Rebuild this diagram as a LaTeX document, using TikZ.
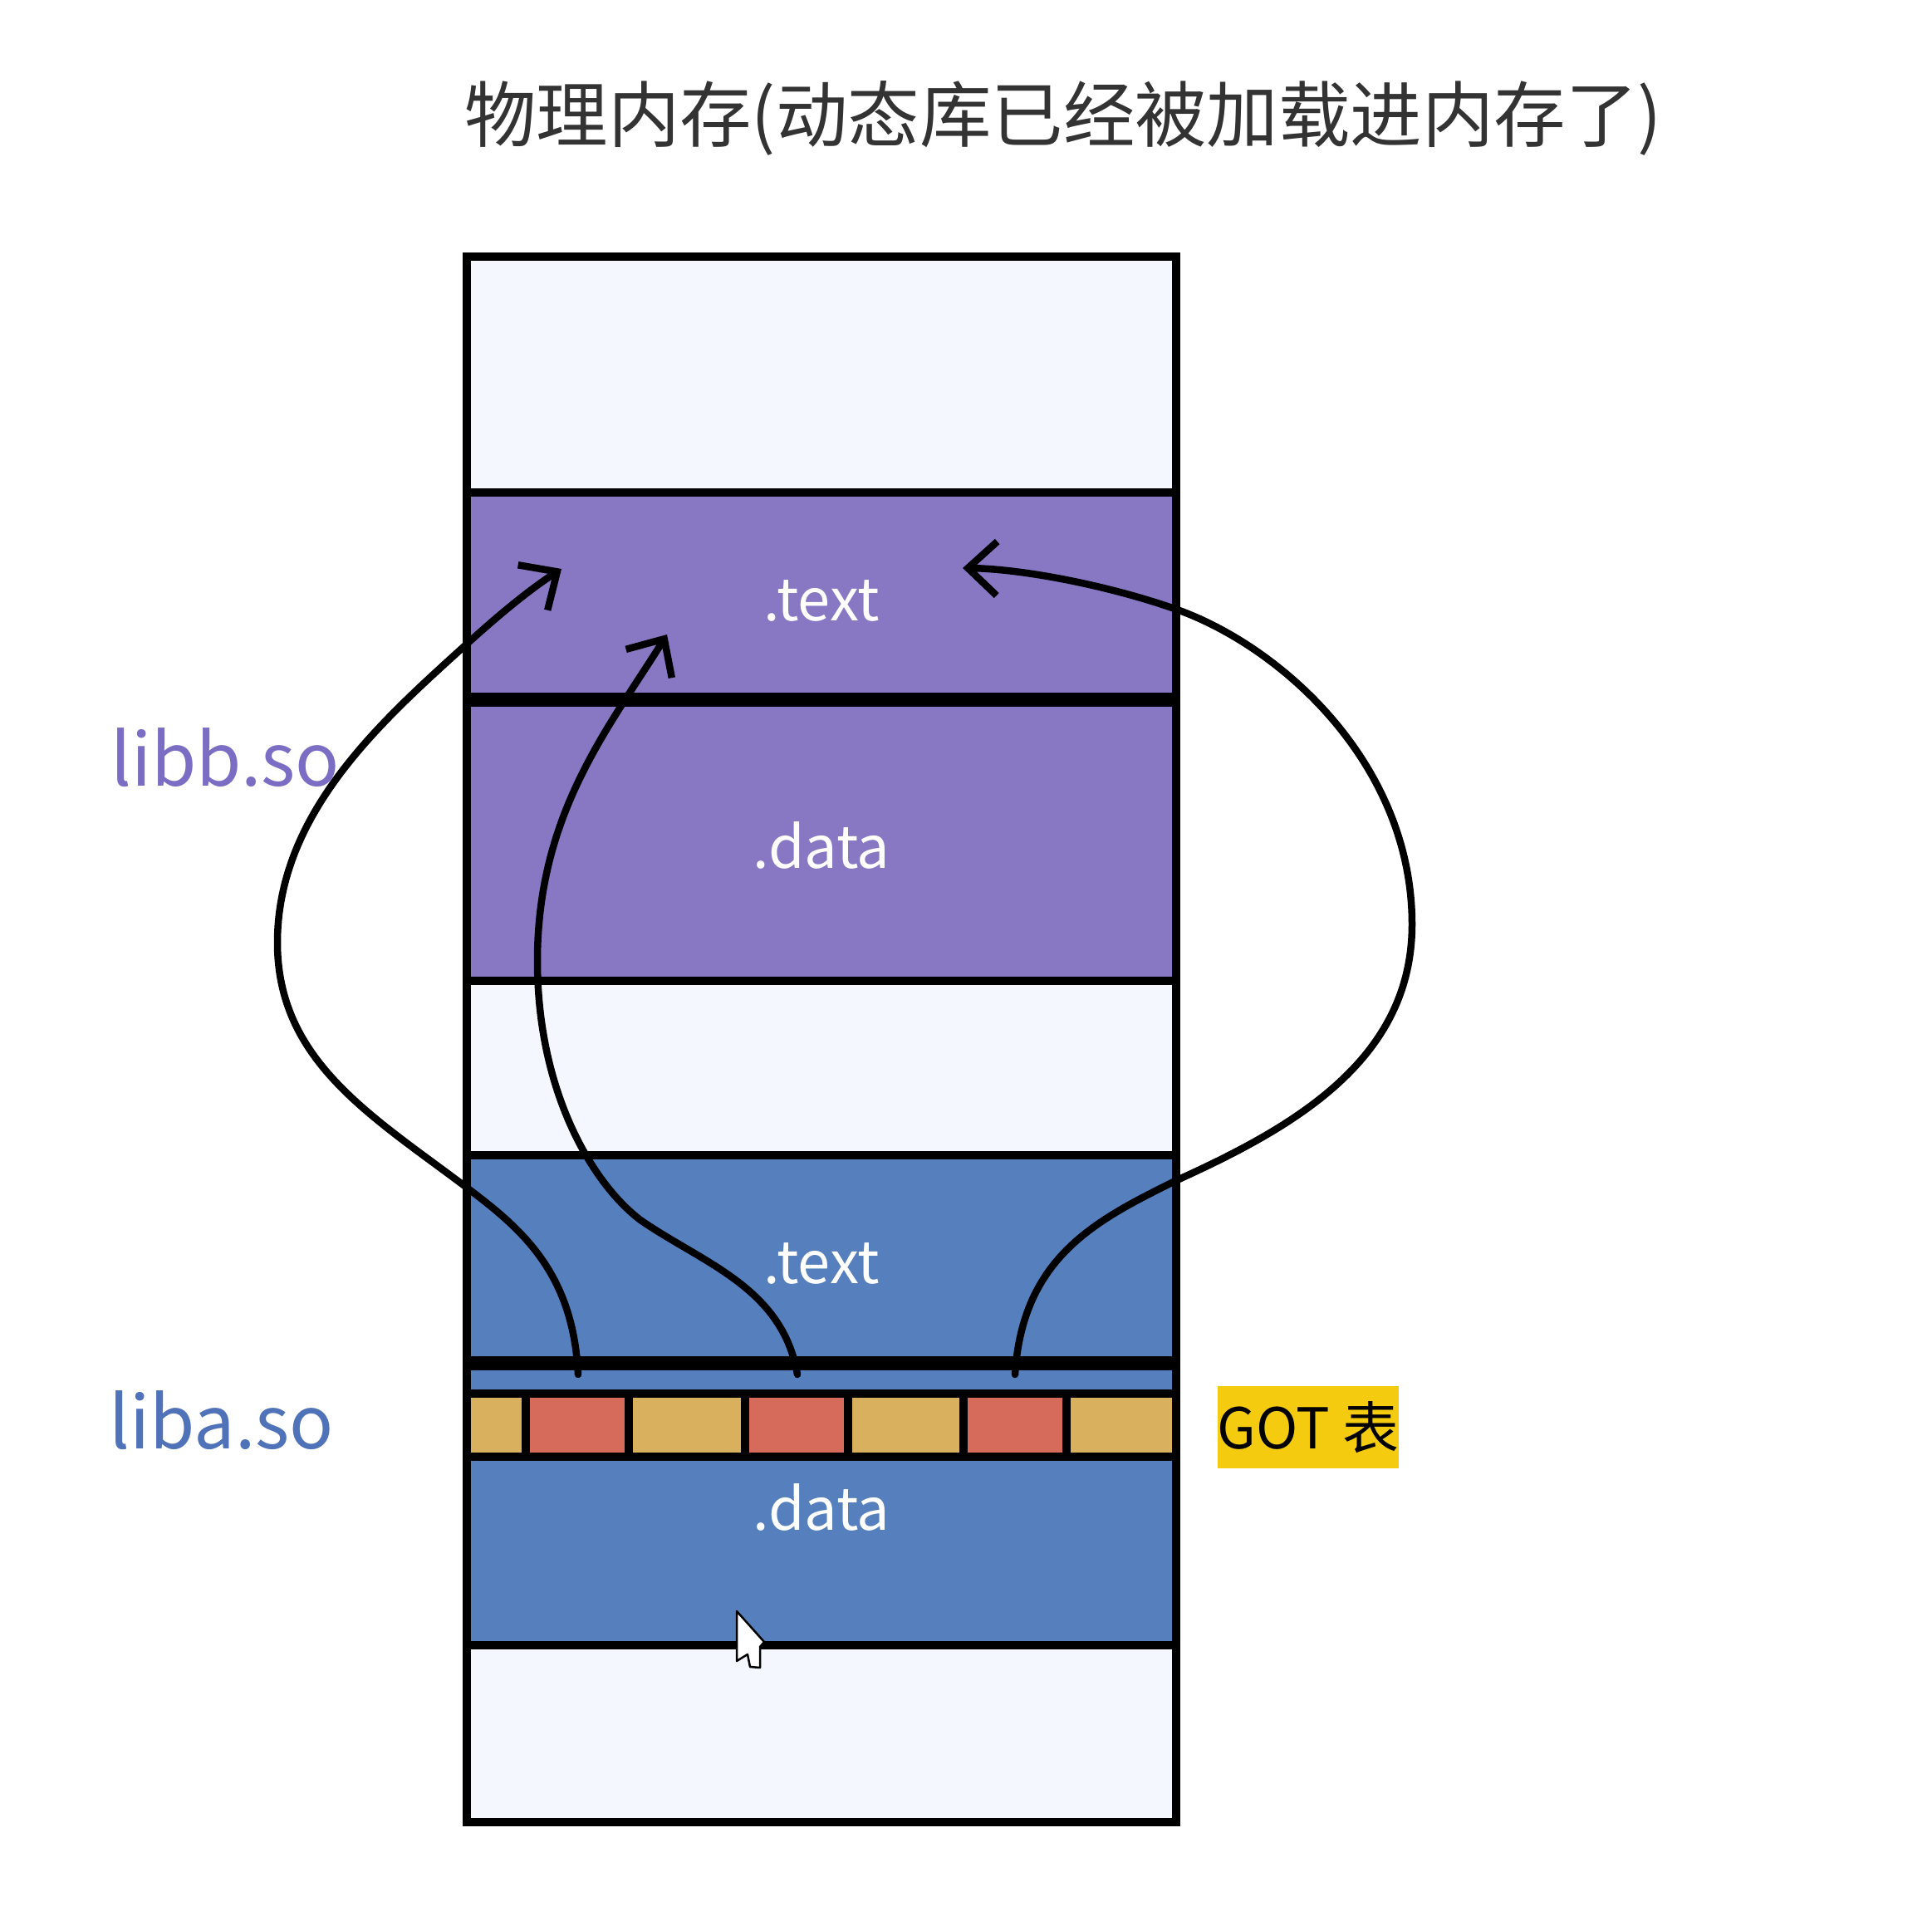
\documentclass[tikz,border=0pt]{standalone}
\usepackage{fontspec}
\setmainfont{Noto Sans CJK SC}
\usetikzlibrary{arrows.meta}
\definecolor{palecol}{HTML}{F4F7FD}
\definecolor{purplecol}{HTML}{8878C3}
\definecolor{bluecol}{HTML}{557FBD}
\definecolor{goldcol}{HTML}{D9B15E}
\definecolor{redcol}{HTML}{D66B5B}
\definecolor{yellowcol}{HTML}{F5CB10}
\definecolor{libbcol}{HTML}{7B6CC4}
\definecolor{libacol}{HTML}{4F72B8}
\tikzset{
	band/.style={rectangle, draw, line width=0.1cm, minimum width=8.54cm, inner sep=0pt},
	cell/.style={rectangle, draw, line width=0.1cm, minimum height=0.76cm, inner sep=0pt},
	seclabel/.style={text=white, font=\fontsize{20}{20}\selectfont, inner sep=0pt},
	liblabel/.style={font=\fontsize{25}{25}\selectfont, inner sep=0pt},
	conn/.style={line width=0.085cm, line cap=round, -{Straight Barb[length=3.5mm, width=6.5mm]}}
}
\begin{document}
\begin{tikzpicture}
	\useasboundingbox (0,0) rectangle (23.26,23);
	
	% Title
	\node[text=black!80, font=\fontsize{24.6}{24.6}\selectfont, inner sep=0pt] (title) at (12.8, 21.57) {物理内存(动态库已经被加载进内存了)};
	
	% Memory bands, top to bottom
	\node[band, fill=palecol, minimum height=2.845cm] (top) at (9.89, 18.49) {};
	\node[band, fill=purplecol, minimum height=2.5cm] (btext) at (9.89, 15.82) {};
	\node[band, fill=purplecol, minimum height=3.38cm] (bdata) at (9.89, 12.88) {};
	\node[band, fill=palecol, minimum height=2.1cm] (gap) at (9.89, 10.14) {};
	\node[band, fill=bluecol, minimum height=2.51cm] (atext) at (9.89, 7.835) {};
	\node[band, fill=bluecol, minimum height=0.36cm] (strip) at (9.89, 6.40) {};
	\node[band, fill=bluecol, minimum height=2.27cm] (adata) at (9.89, 4.325) {};
	\node[band, fill=palecol, minimum height=2.13cm] (bottom) at (9.89, 2.125) {};
	
	% GOT row
	\node[cell, fill=goldcol, minimum width=0.71cm] (got1) at (5.975, 5.84) {};
	\node[cell, fill=redcol, minimum width=1.24cm] (cella) at (6.95, 5.84) {};
	\node[cell, fill=goldcol, minimum width=1.4cm] (got2) at (8.27, 5.84) {};
	\node[cell, fill=redcol, minimum width=1.24cm] (cellb) at (9.59, 5.84) {};
	\node[cell, fill=goldcol, minimum width=1.39cm] (got3) at (10.905, 5.84) {};
	\node[cell, fill=redcol, minimum width=1.24cm] (cellc) at (12.22, 5.84) {};
	\node[cell, fill=goldcol, minimum width=1.32cm] (got4) at (13.5, 5.84) {};
	
	% Thick separators
	\draw[line width=0.17cm] ([yshift=0.5mm]btext.south west) -- ([yshift=0.5mm]btext.south east);
	\draw[line width=0.17cm] ([yshift=0.5mm]atext.south west) -- ([yshift=0.5mm]atext.south east);
	
	% Section labels
	\node[seclabel] (btextlabel) at (9.89, 15.76) {.text};
	\node[seclabel] (bdatalabel) at (9.89, 12.82) {.data};
	\node[seclabel] (atextlabel) at (9.89, 7.78) {.text};
	\node[seclabel] (adatalabel) at (9.89, 4.85) {.data};
	
	% Library labels
	\node[liblabel, text=libbcol] (libb) at (2.71, 13.88) {libb.so};
	\node[liblabel, text=libacol] (liba) at (2.67, 5.9) {liba.so};
	\node[fill=yellowcol, minimum width=2.18cm, minimum height=0.99cm, inner sep=0pt, font=\fontsize{19.3}{19.3}\selectfont] (gotlabel) at (15.75, 5.815) {GOT 表};
	
	% Arrow ends
	\coordinate (srca) at (6.96, 6.45);
	\coordinate (srcb) at (9.6, 6.45);
	\coordinate (srcc) at (12.22, 6.45);
	\coordinate (enda) at (6.76, 16.15);
	\coordinate (endb) at (8.03, 15.36);
	\coordinate (endc) at (11.59, 16.16);
	
	% Arrows
	\draw[conn] (srca) .. controls (6.9, 7.72) and (6.23, 8.24) .. (5.58, 8.73)
		.. controls (4.45, 9.58) and (3.34, 10.24) .. (3.34, 11.65)
		.. controls (3.34, 13.21) and (4.6, 14.32) .. (5.58, 15.21)
		.. controls (5.9, 15.5) and (6.3, 15.85) .. (enda);
	\draw[conn] (srcb) .. controls (9.42, 7.5) and (8.46, 7.79) .. (7.71, 8.31)
		.. controls (7.12, 8.76) and (6.47, 9.87) .. (6.47, 11.43)
		.. controls (6.47, 13.21) and (7.34, 14.25) .. (endb);
	\draw[conn] (srcc) .. controls (12.31, 7.87) and (13.2, 8.31) .. (14.17, 8.79)
		.. controls (15.58, 9.43) and (17, 10.24) .. (17, 11.87)
		.. controls (17, 13.8) and (15.43, 15.21) .. (14.17, 15.66)
		.. controls (13.35, 15.95) and (12.31, 16.15) .. (endc);
	
	% Mouse pointer
	\draw[fill=white, line width=0.025cm, line join=round] (8.87, 3.6) -- (9.2, 3.23) -- (9.15, 3.17) -- (9.15, 2.92) -- (9.03, 2.93) -- (9.0, 3.08) -- (8.87, 3.0) -- cycle;
\end{tikzpicture}
\end{document}
